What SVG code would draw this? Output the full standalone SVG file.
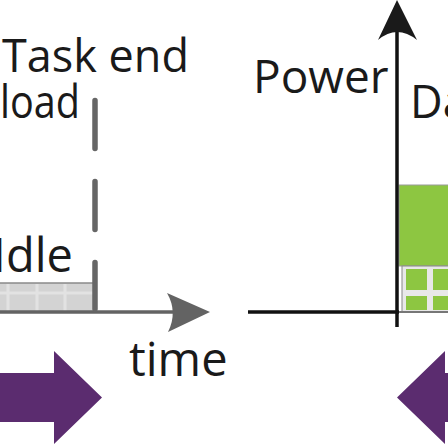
<svg xmlns="http://www.w3.org/2000/svg" width="448" height="448" viewBox="0 0 448 448">
<style>
.lbl{font-family:"Open Sans","Liberation Sans",sans-serif;font-size:45px;fill:#1a1a1a}
.purple{fill:#5b2c6f}
.green{fill:#8dc641}
</style>
<rect width="448" height="448" fill="#ffffff"/>
<g id="idle-bar">
<rect x="-2" y="283" width="96" height="29" fill="#d3d3d3" stroke="#8a8a8a" stroke-width="1.5"/>
<g stroke="#e2e2e2" stroke-width="3">
<line x1="8" y1="284" x2="8" y2="311"/>
<line x1="37" y1="284" x2="37" y2="311"/>
<line x1="65" y1="284" x2="65" y2="311"/>
<line x1="0" y1="293" x2="93" y2="293"/>
</g>
</g>
<g id="data-block">
<rect x="399" y="185" width="50" height="81" class="green" stroke="#9a9a9a" stroke-width="1"/>
<rect x="402" y="266" width="47" height="46" fill="#e8e8e8" stroke="#888" stroke-width="1"/>
<rect x="406" y="269" width="21" height="21" class="green"/>
<rect x="433" y="269" width="20" height="21" class="green"/>
<rect x="406" y="296" width="21" height="14" class="green"/>
<rect x="433" y="296" width="20" height="14" class="green"/>
<line x1="399" y1="312" x2="448" y2="312" stroke="#777" stroke-width="2"/>
</g>
<g id="connectors">
<line x1="0" y1="312" x2="180" y2="312" stroke="#636363" stroke-width="3.5"/>
<path d="M167,293 L210,312 L168,332 Q178,312 167,293 Z" fill="#636363"/>
<line x1="95" y1="100.5" x2="95" y2="309" stroke="#666" stroke-width="5.5" stroke-linecap="round" stroke-dasharray="48 33"/>
<line x1="397" y1="28" x2="397" y2="327" stroke="#111" stroke-width="3.5"/>
<path d="M397,0 L417,40 Q397,24 378,40 Z" fill="#1a1a1a"/>
<line x1="248" y1="312" x2="399" y2="312" stroke="#111" stroke-width="3.5"/>
</g>
<g id="arrow-right">
<polygon class="purple" points="-2,373 54,373 54,351 102,397.5 54,444 54,422 -2,422"/>
</g>
<g id="arrow-left">
<polygon class="purple" points="450,373 445,373 445,351 397,397.5 445,444 445,422 450,422"/>
</g>
<g id="labels">
<text class="lbl" x="2" y="72">Task end</text>
<text class="lbl" x="0" y="118" textLength="80" lengthAdjust="spacingAndGlyphs">load</text>
<text class="lbl" x="73" y="272" text-anchor="end" style="font-size:47px">Idle</text>
<text class="lbl" x="129" y="376" style="font-size:47px">time</text>
<text class="lbl" x="253" y="93" style="font-size:46px">Power</text>
<text class="lbl" x="410" y="118">Da</text>
</g>
</svg>
